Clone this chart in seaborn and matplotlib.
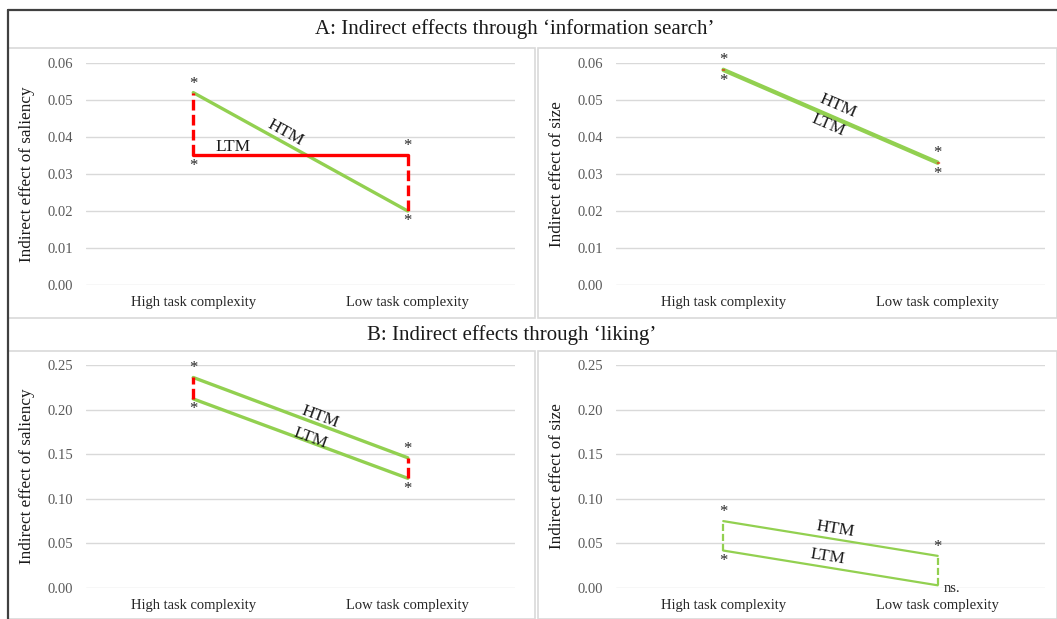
import numpy as np
import pandas as pd
import matplotlib
matplotlib.use('Agg')
import matplotlib.pyplot as plt
from matplotlib.lines import Line2D
from matplotlib.patches import Rectangle
import seaborn as sns

# categories and panel data
categories = ['High task complexity', 'Low task complexity']
series = ['HTM', 'LTM']

info_saliency_htm = [0.052, 0.020]
info_saliency_ltm = [0.035, 0.035]
info_size_htm = [0.0583, 0.0332]
info_size_ltm = [0.0580, 0.0329]
liking_saliency_htm = [0.236, 0.146]
liking_saliency_ltm = [0.212, 0.123]
liking_size_htm = [0.075, 0.036]
liking_size_ltm = [0.042, 0.003]

info_ticks = [0.00, 0.01, 0.02, 0.03, 0.04, 0.05, 0.06]
liking_ticks = [0.00, 0.05, 0.10, 0.15, 0.20, 0.25]

# significance marks: (category index, series, text)
info_saliency_marks = [(0, 'HTM', '*'), (0, 'LTM', '*'), (1, 'HTM', '*'), (1, 'LTM', '*')]
info_size_marks = info_saliency_marks
liking_saliency_marks = info_saliency_marks
liking_size_marks = [(0, 'HTM', '*'), (0, 'LTM', '*'), (1, 'HTM', '*'), (1, 'LTM', 'ns.')]

sns.set_theme(style='white')
plt.rcParams['font.family'] = ['Liberation Serif', 'DejaVu Serif']

GREEN = '#92D050'
RED = '#FF0000'
W, H = 1057, 619

fig = plt.figure(figsize=(W / 100, H / 100), dpi=100)


def fx(px):
    return px / W


def fy(py):
    return 1 - py / H


def make_ax(left, right, top, bottom):
    return fig.add_axes([fx(left), fy(bottom), fx(right) - fx(left), fy(top) - fy(bottom)])


def panel(ax, htm, ltm, ticks, ylabel, colors, lw, conn_color, marks, labels):
    df = pd.DataFrame({
        'task': categories * 2,
        'effect': list(htm) + list(ltm),
        'series': ['HTM'] * 2 + ['LTM'] * 2,
    })
    sns.lineplot(data=df, x='task', y='effect', hue='series', palette=colors,
                 linewidth=lw, legend=False, ax=ax, zorder=3)
    vals = {'HTM': htm, 'LTM': ltm}
    for i in range(2):
        ax.vlines(i, ltm[i], htm[i], colors=conn_color, linewidth=lw,
                  linestyles=(0, (3.2, 1.3)), zorder=4)
    ax.set_xlim(-0.5, 1.5)
    ax.set_ylim(ticks[0], ticks[-1])
    ax.set_yticks(ticks)
    ax.set_yticklabels([f'{t:.2f}' for t in ticks])
    ax.grid(axis='y', color='#d9d9d9', linewidth=1)
    ax.grid(axis='x', visible=False)
    for s in ax.spines.values():
        s.set_visible(False)
    ax.tick_params(axis='y', length=0, pad=9, labelsize=10.5, labelcolor='#595959')
    ax.tick_params(axis='x', length=0, pad=8, labelsize=10.5, labelcolor='#262626')
    ax.set_xlabel('')
    ax.set_ylabel(ylabel, fontsize=12.3, color='#1a1a1a')
    ax.yaxis.set_label_coords(-0.119, 0.5)
    ax.set_facecolor('none')

    for i, s, txt in marks:
        v = vals[s]
        other = vals['LTM' if s == 'HTM' else 'HTM']
        up = v[i] >= other[i]
        if txt == '*':
            ax.annotate(txt, (i, v[i]), xytext=(0, 6.5 if up else -7.5), textcoords='offset points',
                        ha='center', va='center', fontsize=12, color='#262626')
        else:
            ax.annotate(txt, (i, v[i]), xytext=(4, -2), textcoords='offset points',
                        ha='left', va='center', fontsize=10.5, color='#262626')

    # series labels, rotated to follow their line
    for s, xpos, ypos in labels:
        v = vals[s]
        p0 = ax.transData.transform((0, v[0]))
        p1 = ax.transData.transform((1, v[1]))
        ang = np.degrees(np.arctan2(p1[1] - p0[1], p1[0] - p0[0]))
        ax.text(xpos, ypos, s, rotation=ang, rotation_mode='anchor', ha='center', va='center',
                fontsize=12.5, color='#1a1a1a', zorder=5)


ax1 = make_ax(86, 515, 63, 285)
ax2 = make_ax(616, 1045, 63, 285)
ax3 = make_ax(86, 515, 365, 588)
ax4 = make_ax(616, 1045, 365, 588)

panel(ax1, info_saliency_htm, info_saliency_ltm, info_ticks, 'Indirect effect of saliency',
      {'HTM': GREEN, 'LTM': RED}, 2.4, RED, info_saliency_marks,
      [('HTM', 0.43, 0.0412), ('LTM', 0.185, 0.0373)])
panel(ax2, info_size_htm, info_size_ltm, info_ticks, 'Indirect effect of size',
      {'HTM': GREEN, 'LTM': GREEN}, 2.4, RED, info_size_marks,
      [('HTM', 0.535, 0.0483), ('LTM', 0.49, 0.0432)])
panel(ax3, liking_saliency_htm, liking_saliency_ltm, liking_ticks, 'Indirect effect of saliency',
      {'HTM': GREEN, 'LTM': GREEN}, 2.4, RED, liking_saliency_marks,
      [('HTM', 0.59, 0.1915), ('LTM', 0.545, 0.168)])
panel(ax4, liking_size_htm, liking_size_ltm, liking_ticks, 'Indirect effect of size',
      {'HTM': GREEN, 'LTM': GREEN}, 1.6, GREEN, liking_size_marks,
      [('HTM', 0.52, 0.0655), ('LTM', 0.485, 0.0345)])

# panel frames
grey = '#d9d9d9'
for (l, r, t, b) in [(8, 535, 48, 318), (538, 1057, 48, 318), (8, 535, 351, 619), (538, 1057, 351, 619)]:
    fig.add_artist(Rectangle((fx(l), fy(b)), fx(r) - fx(l), fy(t) - fy(b), transform=fig.transFigure,
                             fill=False, edgecolor=grey, linewidth=1.2, zorder=0))

# outer border
fig.add_artist(Line2D([fx(8), fx(8)], [fy(10), 0], transform=fig.transFigure, color='#404040', linewidth=1.6))
fig.add_artist(Line2D([fx(8), 1], [fy(10), fy(10)], transform=fig.transFigure, color='#404040', linewidth=1.6))

fig.text(fx(515), fy(29), 'A: Indirect effects through \u2018information search\u2019',
         ha='center', va='center', fontsize=15, color='#1a1a1a')
fig.text(fx(512), fy(335), 'B: Indirect effects through \u2018liking\u2019',
         ha='center', va='center', fontsize=15, color='#1a1a1a')

fig.savefig('out.png', dpi=100)
